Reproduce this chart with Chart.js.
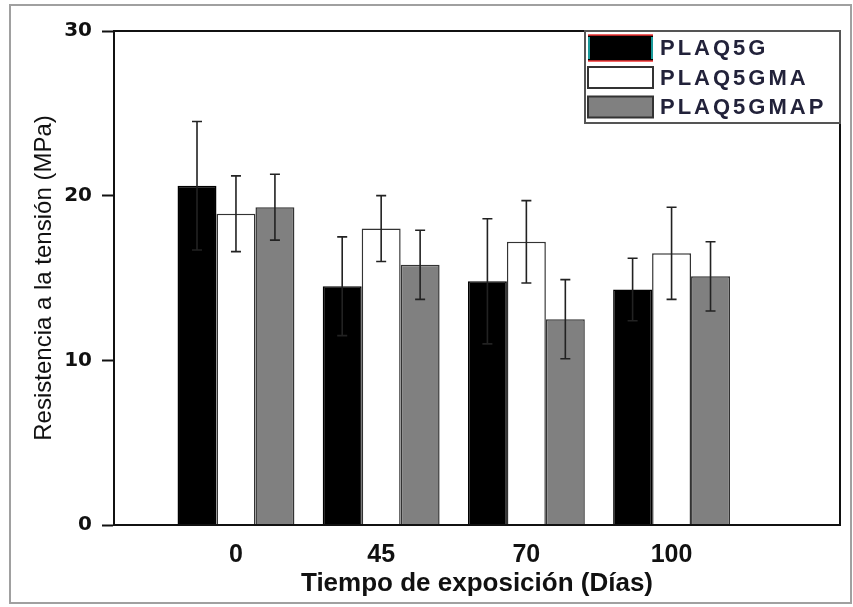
<!DOCTYPE html>
<html>
<head>
<meta charset="utf-8">
<style>
  html, body { margin: 0; padding: 0; background: #fff; }
  #wrap { width: 853px; height: 607px; position: relative; }
</style>
<script src="https://cdn.jsdelivr.net/npm/chart.js@4.4.1/dist/chart.umd.min.js"></script>
</head>
<body>
<div id="wrap"><canvas id="chart1" width="853" height="607"></canvas></div>
<script>
(function(){
  'use strict';

  // exposure time (days)
  var days = ['0', '45', '70', '100'];
  var seriesNames = ['PLAQ5G', 'PLAQ5GMA', 'PLAQ5GMAP'];

  // tensile strength (MPa) and error
  var plaq5g = [20.6, 14.5, 14.8, 14.3];
  var plaq5gErr = [3.9, 3.0, 3.8, 1.9];
  var plaq5gma = [18.9, 18.0, 17.2, 16.5];
  var plaq5gmaErr = [2.3, 2.0, 2.5, 2.8];
  var plaq5gmap = [19.3, 15.8, 12.5, 15.1];
  var plaq5gmapErr = [2.0, 2.1, 2.4, 2.1];

  var yTicks = [0, 10, 20, 30];

  function points(values) {
    return values.map(function(v, i) { return {x: i, y: v}; });
  }

  var frame = {
    id: 'frame',
    beforeDraw: function(chart) {
      var ctx = chart.ctx;
      ctx.save();
      ctx.strokeStyle = '#a0a0a0';
      ctx.lineWidth = 2;
      ctx.strokeRect(10, 5, 841, 598);
      ctx.restore();
    },
    afterDatasetsDraw: function(chart) {
      var ctx = chart.ctx;
      var y = chart.scales.y;
      ctx.save();
      ctx.strokeStyle = '#222';
      ctx.lineWidth = 1.6;
      chart.data.datasets.forEach(function(ds, di) {
        var meta = chart.getDatasetMeta(di);
        meta.data.forEach(function(bar, i) {
          var v = ds.data[i].y, e = ds.errors[i];
          var top = y.getPixelForValue(v + e);
          var bot = y.getPixelForValue(v - e);
          ctx.beginPath();
          ctx.moveTo(bar.x, top); ctx.lineTo(bar.x, bot);
          ctx.moveTo(bar.x - 5, top); ctx.lineTo(bar.x + 5, top);
          ctx.moveTo(bar.x - 5, bot); ctx.lineTo(bar.x + 5, bot);
          ctx.stroke();
        });
      });
      ctx.restore();
    },
    afterDraw: function(chart) {
      var ctx = chart.ctx;
      var a = chart.chartArea;
      ctx.save();
      // plot frame
      ctx.strokeStyle = '#111';
      ctx.lineWidth = 2;
      ctx.strokeRect(a.left, a.top, a.right - a.left, a.bottom - a.top);

      // legend box
      var bx = a.right - 255, by = a.top, bw = 255, bh = 92;
      ctx.fillStyle = '#fff';
      ctx.fillRect(bx, by, bw, bh);
      ctx.strokeStyle = '#555';
      ctx.strokeRect(bx, by, bw, bh);

      var rows = [17, 46.5, 76];
      ctx.font = 'bold 22px "Liberation Sans", Arial, sans-serif';
      ctx.letterSpacing = '3px';
      ctx.textBaseline = 'middle';
      chart.data.datasets.forEach(function(ds, di) {
        var cy = by + rows[di];
        var sh = di === 0 ? 26 : 21;
        var sx = bx + 3, sw = 65;
        ctx.fillStyle = ds.backgroundColor;
        ctx.fillRect(sx, cy - sh / 2, sw, sh);
        if (di === 0) {
          ctx.lineWidth = 1.5;
          ctx.strokeStyle = '#e33';
          ctx.beginPath();
          ctx.moveTo(sx, cy - sh / 2); ctx.lineTo(sx + sw, cy - sh / 2);
          ctx.moveTo(sx, cy + sh / 2); ctx.lineTo(sx + sw, cy + sh / 2);
          ctx.stroke();
          ctx.strokeStyle = '#2cc';
          ctx.beginPath();
          ctx.moveTo(sx + 1, cy - sh / 2 + 2); ctx.lineTo(sx + 1, cy + sh / 2 - 2);
          ctx.moveTo(sx + sw - 1, cy - sh / 2 + 2); ctx.lineTo(sx + sw - 1, cy + sh / 2 - 2);
          ctx.stroke();
        } else {
          ctx.lineWidth = 2;
          ctx.strokeStyle = '#333';
          ctx.strokeRect(sx, cy - sh / 2, sw, sh);
        }
        ctx.fillStyle = '#22223a';
        ctx.fillText(ds.label, bx + 75, cy + 1);
      });
      ctx.restore();
    }
  };

  var c1 = document.getElementById('chart1');
  var chart1 = new Chart(c1, {
    type: 'bar',
    data: {
      datasets: [{
        label: seriesNames[0],
        data: points(plaq5g),
        errors: plaq5gErr,
        backgroundColor: '#000000',
        borderColor: '#000000',
        borderWidth: 1.5
      }, {
        label: seriesNames[1],
        data: points(plaq5gma),
        errors: plaq5gmaErr,
        backgroundColor: '#ffffff',
        borderColor: '#333333',
        borderWidth: 1.5
      }, {
        label: seriesNames[2],
        data: points(plaq5gmap),
        errors: plaq5gmapErr,
        backgroundColor: '#808080',
        borderColor: '#333333',
        borderWidth: 1.5
      }]
    },
    options: {
      responsive: false,
      animation: false,
      categoryPercentage: 0.805,
      barPercentage: 1.0,
      layout: { padding: { left: 0, top: 31, right: 13, bottom: 0 } },
      plugins: {
        legend: { display: false },
        tooltip: { enabled: false }
      },
      scales: {
        x: {
          type: 'linear',
          offset: false,
          min: -0.84,
          max: 4.16,
          afterFit: function(scale) { scale.height = 82; },
          afterBuildTicks: function(scale) {
            scale.ticks = days.map(function(d, i) { return {value: i}; });
          },
          grid: { drawOnChartArea: false, drawTicks: false, offset: false },
          border: { color: '#111', width: 2 },
          ticks: {
            padding: 15,
            color: '#111',
            font: { family: '"Liberation Sans", Arial, sans-serif', size: 25, weight: 'bold' },
            callback: function(value) { return days[value]; }
          },
          title: {
            display: true,
            text: 'Tiempo de exposición (Días)',
            color: '#111',
            font: { family: '"Liberation Sans", Arial, sans-serif', size: 26, weight: 'bold' },
            padding: { top: 0, bottom: 8 }
          }
        },
        y: {
          min: 0,
          max: 30,
          afterFit: function(scale) { scale.width = 114; },
          afterBuildTicks: function(scale) {
            scale.ticks = yTicks.map(function(v) { return {value: v}; });
          },
          grid: { drawOnChartArea: false, tickLength: 12, tickColor: '#111', tickWidth: 2 },
          border: { color: '#111', width: 2 },
          ticks: {
            padding: 10,
            color: '#111',
            font: { family: '"DejaVu Sans", sans-serif', size: 20, weight: 'bold' }
          },
          title: {
            display: true,
            text: 'Resistencia a la tensión (MPa)',
            color: '#111',
            font: { family: '"Liberation Sans", Arial, sans-serif', size: 24, weight: 'normal' },
            padding: { top: 30, bottom: 0 }
          }
        }
      }
    },
    plugins: [frame]
  });

}());
</script>
</body>
</html>
